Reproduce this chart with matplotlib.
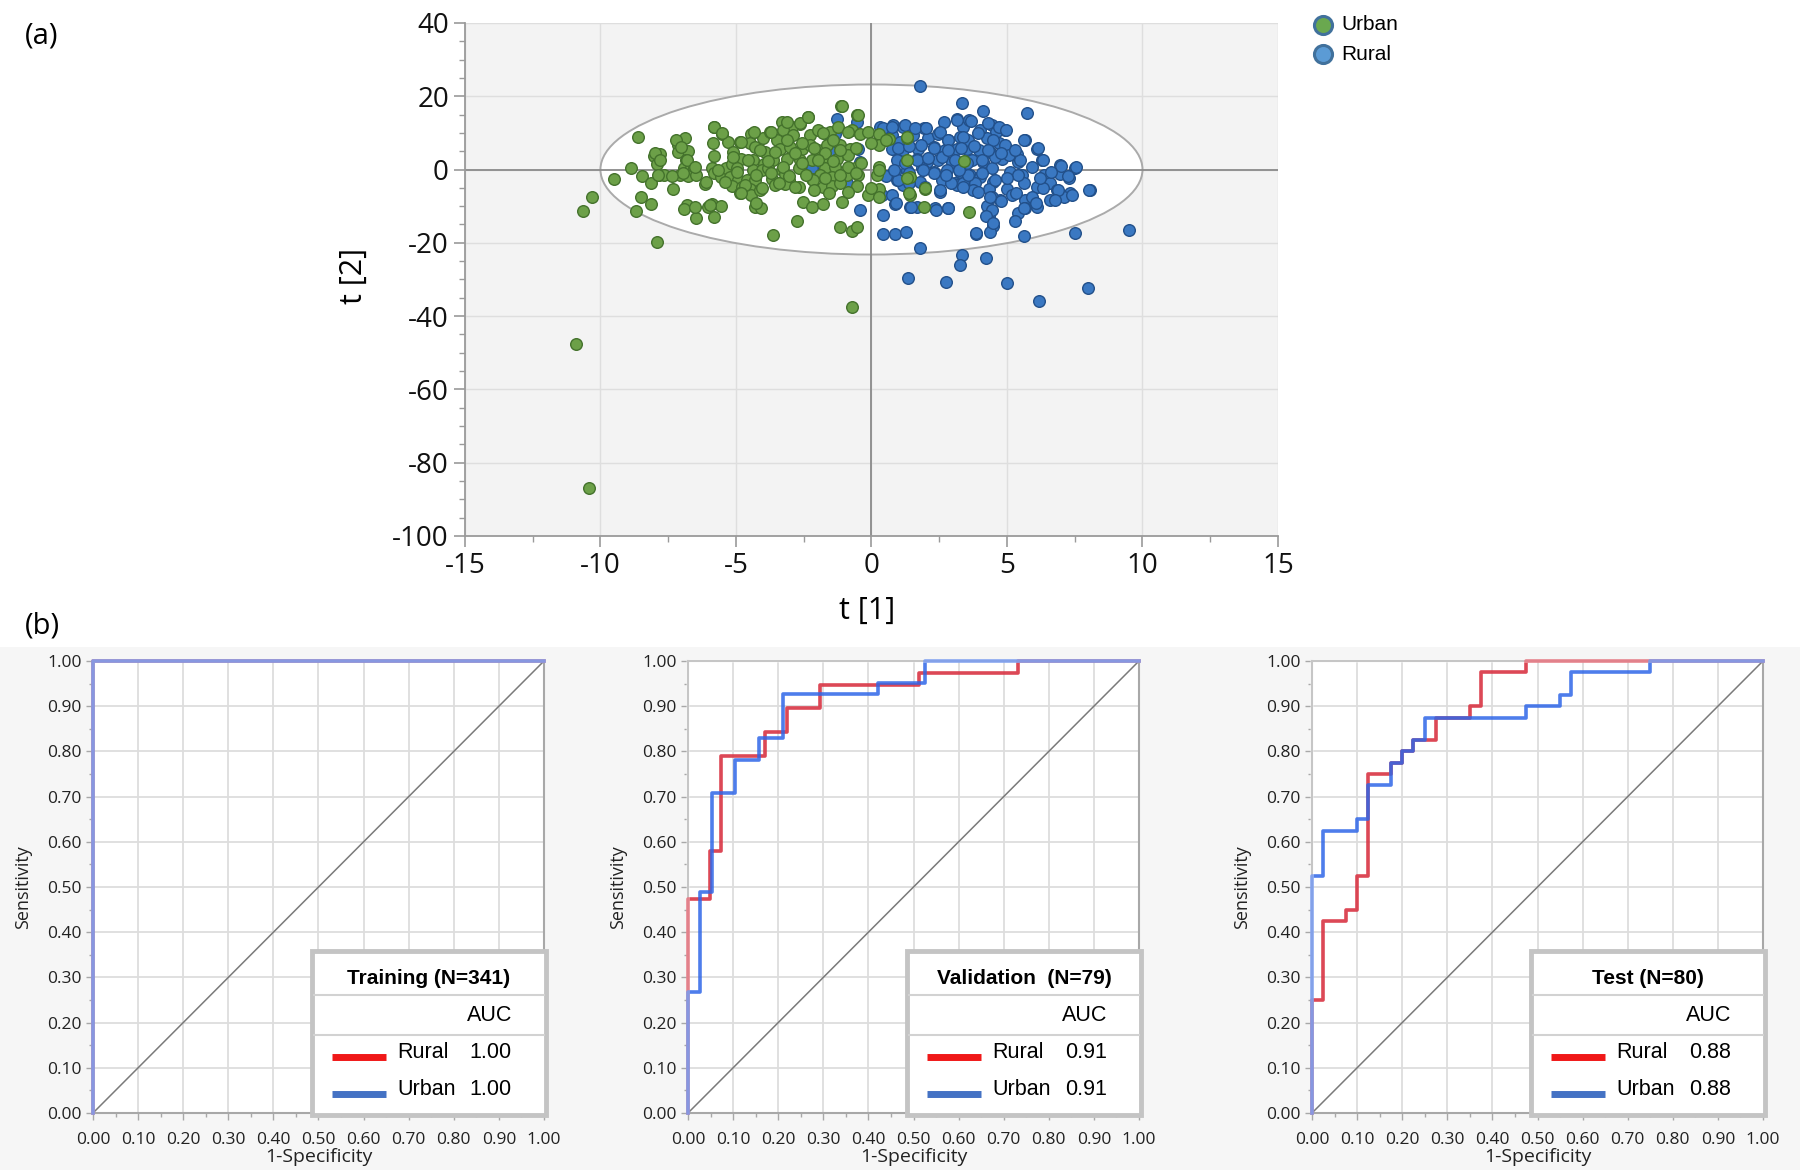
import numpy as np
import matplotlib
matplotlib.use("Agg")
import matplotlib.pyplot as plt
from matplotlib.patches import Ellipse, Rectangle
from matplotlib.lines import Line2D
from matplotlib.ticker import MultipleLocator

plt.rcParams['font.family'] = ['Open Sans', 'DejaVu Sans']
plt.rcParams['axes.unicode_minus'] = False

# (a) score plot, (t[1], t[2])
urban_pts = [
    (-8.63, 8.8), (-8.86, 0.3), (-9.5, -2.5), (-10.31, -7.5), (-10.66, -11.4), (-8.49, -7.5),
    (-8.67, -11.4), (-8.15, -9.5), (-7.9, -19.7), (-8.45, -1.8), (-8.12, -3.6), (-8.02, 3.7),
    (-7.8, 4.2), (-7.93, 1.5), (-7.83, -1.5), (-7.66, -1.6), (-7.34, -5.2), (-7.13, 6.8),
    (-6.89, 8.5), (-7.13, 4.8), (-6.78, 5.1), (-6.84, 2.7), (-6.92, 0.5), (-6.7, -0.2),
    (-6.55, 0.5), (-7.05, -1.5), (-6.76, -1.8), (-6.46, -1.5), (-6.13, -4.0), (-6.82, -9.7),
    (-6.92, -10.9), (-6.48, -13.1), (-6.03, -10.2), (-5.87, -9.5), (-5.55, -9.9), (-5.8, -12.9),
    (-5.81, 11.6), (-5.5, 9.8), (-5.84, 7.3), (-5.82, 3.6), (-5.9, 0.3), (-5.82, -0.9),
    (-5.54, -2.0), (-5.29, 7.5), (-5.1, 4.8), (-4.85, 7.4), (-4.8, 3.0), (-5.35, 0.5),
    (-5.16, 1.6), (-4.98, 0.5), (-5.23, -2.0), (-4.92, -2.9), (-5.16, -4.5), (-4.76, -4.7),
    (-4.85, -6.5), (-4.43, 9.8), (-4.49, 7.1), (-4.3, 6.2), (-4.37, 2.5), (-4.37, 0.0),
    (-4.59, -2.9), (-4.28, -2.9), (-4.49, -5.2), (-4.43, -7.0), (-4.12, -5.6), (-4.28, -10.2),
    (-4.06, -10.5), (-4.0, 8.5), (-3.94, 4.8), (-3.98, 1.6), (-4.03, -0.2), (-3.63, -17.8),
    (-1.12, 17.3), (-2.35, 14.4), (-0.54, 14.8), (-3.31, 13.0), (-2.63, 12.4), (-2.94, 11.6),
    (-3.74, 10.3), (-3.25, 10.7), (-3.49, 8.0), (-2.88, 9.4), (-2.26, 9.4), (-1.96, 10.7),
    (-1.53, 10.3), (-1.22, 11.6), (-0.73, 10.7), (-0.42, 9.8), (-0.11, 10.3), (0.26, 9.8),
    (0.63, 8.2), (1.3, 8.7), (-3.37, 5.7), (-3.0, 6.2), (-2.57, 5.7), (-2.26, 6.6),
    (-1.96, 5.3), (-1.65, 6.6), (-1.16, 6.6), (-0.79, 5.7), (0.26, 6.6), (-3.62, 2.5),
    (-3.12, 3.0), (-2.63, 2.5), (-2.2, 2.5), (-1.65, 2.1), (-1.28, 3.0), (-0.85, 3.9),
    (-3.8, 0.3), (-3.31, -0.2), (-2.69, 0.3), (-1.71, 0.3), (-1.34, 0.7), (-0.6, 0.3),
    (0.26, 0.7), (1.3, 2.5), (-3.68, -2.5), (-3.19, -1.1), (-3.06, -2.9), (-2.2, -2.5),
    (-1.89, -1.5), (-1.46, -2.0), (-0.91, -1.5), (-0.48, -1.5), (0.2, -1.5), (1.43, -2.0),
    (-3.55, -4.3), (-3.19, -4.0), (-2.69, -4.7), (-2.14, -2.9), (-1.77, -4.7), (-1.46, -4.5),
    (-1.16, -3.8), (-0.54, -4.5), (-0.11, -7.0), (0.26, -5.2), (1.98, -5.2), (1.43, -7.0),
    (-2.51, -8.8), (-2.2, -10.2), (-1.77, -9.3), (-1.09, -8.8), (-2.76, -14.0), (-1.16, -15.6),
    (-0.73, -16.7), (-0.52, -15.6), (1.92, -10.2), (3.6, -11.7), (3.42, 2.4),
    (-10.89, -47.7), (-10.42, -86.9), (-0.72, -37.4),
    (-5.81, 11.7), (-5.5, 9.9), (-4.82, 7.6), (-4.32, 10.3), (-3.69, 10.3), (-3.12, 13.0),
    (-2.63, 12.6), (-2.35, 14.4), (-1.78, 9.9), (-1.43, 8.1), (-0.86, 10.3), (-0.51, 14.9),
    (-1.1, 17.2), (-3.12, 8.1), (-2.56, 7.2), (-2.13, 5.8), (-4.11, 5.3), (-3.55, 4.9),
    (-2.84, 4.4), (-1.71, 4.4), (-1.15, 5.3), (-0.58, 5.8), (-0.02, 7.2), (0.55, 8.1),
    (1.32, 9.0), (-5.1, 3.5), (-4.54, 2.6), (-3.83, 2.2), (-3.26, 0.8), (-2.56, 1.7),
    (-1.99, 2.6), (-1.43, 2.2), (-0.86, 0.8), (-0.37, 1.7), (-5.67, -0.1), (-4.96, -0.6),
    (-4.25, -1.5), (-3.69, -1.0), (-3.05, -1.9), (-2.42, -1.5), (-1.71, -2.4), (-1.15, -1.5),
    (-0.58, -1.0), (0.27, -0.1), (-5.39, -3.3), (-4.68, -4.2), (-4.04, -5.1), (-3.4, -3.7),
    (-2.84, -4.7), (-2.13, -5.6), (-1.57, -6.5), (-0.86, -6.0), (-0.02, -5.1), (0.27, -7.4),
    (1.32, -2.4), (1.39, -6.5), (1.96, -5.1), (-7.22, 8.1), (-7.01, 6.2), (-8.0, 4.4),
    (-7.79, 2.6), (-6.8, 2.6), (-6.52, 0.8), (-7.86, -1.5), (-7.36, -1.9), (-6.94, -1.0),
    (-6.09, -3.3), (-4.82, -6.5), (-4.25, -9.2), (-6.52, -10.1), (-5.95, -9.7),
]
rural_pts = [
    (1.8, 22.7), (3.33, 18.2), (-1.28, 13.9), (-0.52, 13.0), (-1.34, 9.8), (-1.53, 7.5),
    (-0.48, 5.7), (-2.2, 0.3), (-0.42, 2.1), (-0.91, -3.8), (-1.46, 4.8), (0.32, 11.6),
    (0.81, 12.1), (1.18, 11.6), (1.92, 11.2), (2.66, 13.0), (3.15, 13.9), (3.39, 11.6),
    (0.38, 8.5), (0.75, 9.4), (1.06, 7.5), (1.55, 9.4), (2.1, 8.5), (2.47, 9.8),
    (2.84, 8.0), (3.27, 8.9), (0.75, 5.7), (1.18, 5.3), (1.73, 5.7), (2.29, 6.2),
    (2.72, 5.3), (3.15, 5.7), (3.52, 5.7), (0.93, 2.5), (1.67, 3.0), (2.04, 2.1),
    (2.47, 2.5), (2.96, 2.1), (0.87, -0.6), (1.3, -0.2), (1.86, 0.3), (2.29, -0.6),
    (2.78, -0.2), (3.27, -0.6), (0.93, -2.9), (1.8, -3.4), (2.6, -2.9), (3.09, -3.8),
    (3.52, -2.9), (1.18, -4.3), (2.53, -6.1), (3.15, -4.3), (0.38, -7.0), (0.75, -7.0),
    (0.87, -9.5), (-0.42, -11.1), (0.44, -12.5), (1.43, -10.2), (1.67, -10.2), (2.35, -10.6),
    (2.84, -10.4), (0.44, -17.7), (0.87, -17.6), (1.28, -17.0), (1.8, -21.5), (3.33, -23.4),
    (4.11, 15.9), (5.73, 15.5), (3.6, 13.5), (4.44, 12.1), (4.93, 10.7), (4.01, 10.7),
    (4.59, 10.3), (5.67, 8.0), (6.1, 5.7), (6.28, 2.7), (3.58, 8.0), (4.25, 8.5),
    (4.69, 7.1), (3.95, 5.3), (4.38, 4.8), (4.99, 4.8), (5.36, 4.2), (4.81, 3.0),
    (4.13, 2.1), (3.7, 2.5), (5.42, 2.1), (6.96, 1.2), (7.52, 0.5), (4.44, 0.5),
    (5.12, -0.6), (5.55, -1.5), (6.35, -1.5), (6.96, -1.1), (7.27, -2.3), (3.64, -1.5),
    (4.01, -2.0), (3.39, -3.8), (3.82, -3.6), (4.5, -3.4), (3.76, -5.6), (4.32, -5.2),
    (4.99, -5.2), (5.61, -3.8), (6.1, -4.9), (6.6, -3.8), (6.84, -5.6), (7.33, -6.5),
    (8.05, -5.5), (7.11, -7.5), (6.6, -8.4), (6.1, -10.2), (5.67, -8.2), (5.18, -7.0),
    (4.75, -8.4), (4.44, -7.5), (4.25, -10.0), (5.67, -10.6), (5.42, -12.0), (5.3, -14.0),
    (4.32, -12.7), (4.5, -15.4), (4.38, -17.0), (3.86, -17.6), (5.61, -18.2), (7.52, -17.2),
    (9.5, -16.5), (4.23, -24.1), (1.36, -29.6), (2.75, -30.8), (3.26, -26.1), (5.0, -31.1),
    (6.19, -35.9), (8.0, -32.4),
    (3.16, 13.5), (3.66, 13.3), (4.29, 12.6), (4.71, 11.7), (4.97, 10.8), (0.41, 11.3),
    (0.76, 11.7), (1.23, 12.2), (1.61, 11.3), (2.03, 11.3), (2.53, 10.3), (2.81, 8.1),
    (3.37, 9.0), (3.94, 9.9), (4.5, 8.1), (4.93, 6.7), (5.63, 8.1), (6.13, 5.8),
    (6.34, 2.6), (6.98, 1.0), (7.54, 0.6), (7.26, -1.9), (8.03, -5.6), (6.9, -5.6),
    (7.4, -6.9), (6.34, -5.1), (5.92, -7.4), (5.35, -6.5), (4.79, -8.7), (4.36, -7.4),
    (3.94, -6.0), (3.37, -4.7), (2.95, -3.7), (2.53, -5.6), (1.96, -4.7), (1.39, -3.7),
    (0.97, -2.8), (0.55, -1.9), (0.83, -0.1), (1.25, 1.7), (1.68, 2.6), (2.1, 3.1),
    (2.6, 3.5), (3.09, 2.6), (3.51, 1.7), (4.08, 2.6), (4.57, 3.5), (5.07, 4.0),
    (5.49, 2.6), (5.92, 0.8), (5.42, -1.5), (5.0, -2.4), (4.57, -2.8), (4.08, -1.0),
    (3.58, -1.5), (3.23, -0.1), (2.74, -1.5), (2.31, -1.0), (1.89, -0.1), (1.39, -1.0),
    (0.97, 5.8), (1.39, 6.3), (1.82, 6.7), (2.31, 5.8), (2.81, 5.3), (3.3, 5.8),
    (3.8, 6.3), (4.29, 5.3), (4.79, 4.4), (5.28, 5.3), (6.62, -0.6), (6.2, -2.4),
    (6.76, -8.3), (5.63, -10.6), (6.06, -9.2), (4.43, -11.0), (4.22, -12.8), (4.5, -14.6),
    (3.87, -17.4), (0.9, -9.2), (1.47, -10.1), (2.38, -11.0), (2.81, -10.6),
]

# (b) ROC curves: corners of the step curves (1-specificity, sensitivity)
panel_titles = ['Training (N=341)', 'Validation  (N=79)', 'Test (N=80)']
rural_fpr = [
    [0, 0, 1],
    [0, 0, 0.049, 0.073, 0.171, 0.220, 0.293, 0.512, 0.732, 1],
    [0, 0, 0.025, 0.075, 0.10, 0.125, 0.175, 0.20, 0.225, 0.275, 0.35, 0.375, 0.475, 1],
]
rural_tpr = [
    [0, 1, 1],
    [0, 0.474, 0.579, 0.789, 0.842, 0.895, 0.947, 0.974, 1, 1],
    [0, 0.25, 0.425, 0.45, 0.525, 0.75, 0.775, 0.80, 0.825, 0.875, 0.90, 0.975, 1, 1],
]
urban_fpr = [
    [0, 0, 1],
    [0, 0, 0.026, 0.053, 0.105, 0.158, 0.211, 0.421, 0.526, 1],
    [0, 0, 0.025, 0.10, 0.125, 0.175, 0.20, 0.225, 0.25, 0.475, 0.55, 0.575, 0.75, 1],
]
urban_tpr = [
    [0, 1, 1],
    [0, 0.268, 0.488, 0.707, 0.780, 0.829, 0.927, 0.951, 1, 1],
    [0, 0.525, 0.625, 0.65, 0.725, 0.775, 0.80, 0.825, 0.875, 0.90, 0.925, 0.975, 1, 1],
]
auc_rural = ['1.00', '0.91', '0.88']
auc_urban = ['1.00', '0.91', '0.88']

fig = plt.figure(figsize=(18, 11.7), dpi=100)

# ---------------- (a) ----------------
ax = fig.add_axes([0.2583, 0.5419, 0.4517, 0.4385])
ax.set_facecolor('#f3f3f3')
ax.set_xlim(-15, 15)
ax.set_ylim(-100, 40)
ax.set_xticks(range(-15, 16, 5))
ax.set_yticks(range(-100, 41, 20))
ax.xaxis.set_minor_locator(MultipleLocator(2.5))
ax.yaxis.set_minor_locator(MultipleLocator(5))
ax.grid(color='#dedede', lw=1.0, zorder=0)
ax.set_axisbelow(True)
for s in ['top', 'right']:
    ax.spines[s].set_visible(False)
for s in ['left', 'bottom']:
    ax.spines[s].set_color('#9a9a9a')
    ax.spines[s].set_linewidth(1.3)
ax.tick_params(which='major', length=8, width=1.2, color='#9a9a9a', labelsize=20, labelcolor='#111111')
ax.tick_params(which='minor', length=4, width=1.0, color='#9a9a9a')
ax.add_patch(Ellipse((0, 0), 20.0, 46.4, facecolor='white', edgecolor='#aaaaaa', lw=1.4, zorder=1))
ax.axhline(0, color='#8a8a8a', lw=1.3, zorder=2)
ax.axvline(0, color='#8a8a8a', lw=1.3, zorder=2)
rx, ry = zip(*rural_pts)
ux, uy = zip(*urban_pts)
ax.scatter(rx, ry, s=70, facecolor='#3a78c2', edgecolor='#22508a', lw=1.0, zorder=3)
ax.scatter(ux, uy, s=70, facecolor='#6ca048', edgecolor='#44722c', lw=1.0, zorder=4)

fig.text(867 / 1800, 1 - 611 / 1170, 't [1]', ha='center', va='center', fontsize=22)
fig.text(354 / 1800, 1 - 276 / 1170, 't [2]', ha='center', va='center', fontsize=22, rotation=90)
fig.text(25 / 1800, 1 - 36 / 1170, '(a)', ha='left', va='center', fontsize=21)
fig.text(25 / 1800, 1 - 626 / 1170, '(b)', ha='left', va='center', fontsize=21)

# group legend, top right
leg_items = [('Urban', '#6aa84f', 25), ('Rural', '#5b9bd5', 54)]
for name, fc, ypx in leg_items:
    fig.add_artist(Line2D([1323 / 1800], [1 - ypx / 1170], marker='o', markersize=13,
                          markerfacecolor=fc, markeredgecolor='#41719c', markeredgewidth=2.2,
                          transform=fig.transFigure))
    fig.text(1341 / 1800, 1 - ypx / 1170, name, ha='left', va='center', fontsize=15,
             family='Liberation Sans')

# ---------------- (b) ----------------
fig.patches.append(Rectangle((0, 0), 1, 0.447, transform=fig.transFigure,
                             facecolor='#f6f6f6', edgecolor='none', zorder=-10))

lefts = [93, 688, 1312]
ticks = np.round(np.arange(0, 1.001, 0.1), 2)
tick_lbl = ['%.2f' % t for t in ticks]
for i in range(3):
    a = fig.add_axes([lefts[i] / 1800, 1 - 1113 / 1170, 451 / 1800, 452 / 1170])
    a.set_facecolor('white')
    a.set_xlim(0, 1)
    a.set_ylim(0, 1)
    a.set_xticks(ticks)
    a.set_yticks(ticks)
    a.set_xticklabels(tick_lbl)
    a.set_yticklabels(tick_lbl)
    a.xaxis.set_minor_locator(MultipleLocator(0.05))
    a.yaxis.set_minor_locator(MultipleLocator(0.05))
    a.grid(color='#dddddd', lw=1.3)
    a.set_axisbelow(True)
    for s in a.spines.values():
        s.set_color('#a8a8a8')
        s.set_linewidth(1.5)
    a.tick_params(which='major', length=5, width=1, color='#a8a8a8', labelsize=12.5,
                  labelcolor='#222222')
    a.tick_params(axis='x', pad=9)
    a.tick_params(axis='y', pad=3)
    a.tick_params(which='minor', length=3, width=1, color='#a8a8a8')
    a.set_xlabel('1-Specificity', fontsize=14, labelpad=0, color='#222222')
    a.set_ylabel('Sensitivity', fontsize=13, labelpad=11, color='#222222')
    a.plot([0, 1], [0, 1], color='#7a7a7a', lw=1.1, zorder=2)
    a.plot(rural_fpr[i], rural_tpr[i], drawstyle='steps-post', color='#d93444', lw=2.6,
           alpha=0.9, zorder=3, clip_on=False)
    a.plot(urban_fpr[i], urban_tpr[i], drawstyle='steps-post', color='#2f66e8', lw=2.6,
           alpha=0.85, zorder=4, clip_on=False)
    # curves look paler where they run along the frame
    a.plot([0, 0, 1], [0, 1, 1], color='white', lw=2.8, alpha=0.35, zorder=5, clip_on=False)

    # AUC box
    x0, x1 = 0.485, 1.005
    a.add_patch(Rectangle((x0, -0.004), x1 - x0, 0.362, facecolor='white', edgecolor='#c4c4c4',
                          lw=3.5, zorder=6, clip_on=False))
    for yl in [0.262, 0.172]:
        a.plot([x0 + 0.005, x1 - 0.005], [yl, yl], color='#d2d2d2', lw=1.5, zorder=7, clip_on=False)
    a.text(0.745, 0.298, panel_titles[i], ha='center', va='center', fontsize=15,
           fontweight='bold', family='Liberation Sans', zorder=8)
    a.text(0.93, 0.216, 'AUC', ha='right', va='center', fontsize=15.5, family='Liberation Sans', zorder=8)
    rows = [('Rural', '#f01818', auc_rural[i], 0.133), ('Urban', '#4472c4', auc_urban[i], 0.051)]
    for name, col, val, yy in rows:
        a.plot([0.531, 0.649], [yy - 0.008, yy - 0.008], color=col, lw=5, solid_capstyle='butt', zorder=8)
        a.text(0.674, yy, name, ha='left', va='center', fontsize=15.5, family='Liberation Sans', zorder=8)
        a.text(0.928, yy, val, ha='right', va='center', fontsize=15.5, family='Liberation Sans', zorder=8)

fig.savefig('out.png', dpi=100)
